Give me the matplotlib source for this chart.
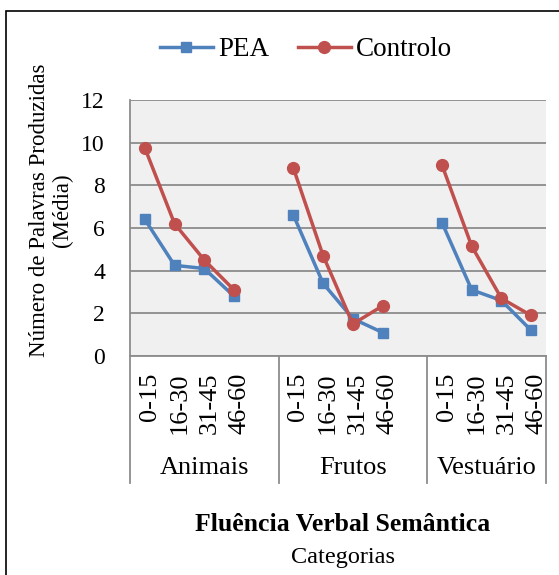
import numpy as np
import matplotlib.pyplot as plt
import matplotlib.transforms as mtrans
from matplotlib.patches import Rectangle

plt.rcParams['font.family'] = ['Liberation Serif', 'DejaVu Serif']

# data
groups = ["Animais", "Frutos", "Vestuário"]
intervals = ["0-15", "16-30", "31-45", "46-60"]
pea = [[6.4, 4.25, 4.1, 2.8],
       [6.6, 3.4, 1.75, 1.1],
       [6.25, 3.1, 2.6, 1.2]]
controlo = [[9.75, 6.2, 4.5, 3.1],
            [8.8, 4.7, 1.5, 2.35],
            [8.95, 5.15, 2.7, 1.9]]

blue = "#4f81bd"
red = "#c0504d"
grid_col = "#8c8c8c"

fig = plt.figure(figsize=(5.59, 5.75), dpi=100)
ax = fig.add_axes([130/559, 1-356/575, 416/559, 256/575])
ax.set_facecolor("#f0f0f0")

# Excel layout: 5 slots per group (4 intervals + blank), last group has no blank
starts = [0, 5, 10]
xt, xl = [], []
for g in range(3):
    x = np.arange(4) + starts[g] + 0.5
    ax.plot(x, pea[g], color=blue, lw=2.5, marker="s", ms=6.5,
            label="PEA" if g == 0 else None, zorder=3)
    ax.plot(x, controlo[g], color=red, lw=2.5, marker="o", ms=8.5,
            label="Controlo" if g == 0 else None, zorder=4)
    xt += list(x)
    xl += intervals

ax.set_xlim(0, 14)
ax.set_ylim(0, 12)
ax.set_yticks(range(0, 13, 2))
ax.yaxis.grid(True, color=grid_col, lw=1.3)
ax.set_axisbelow(True)
ax.set_xticks(xt)
ax.set_xticklabels(xl, rotation=90, fontsize=19)
ax.tick_params(axis="x", length=0, pad=12)
ax.tick_params(axis="y", length=0, pad=18, labelsize=17)
shift = mtrans.ScaledTranslation(5/100, 0, fig.dpi_scale_trans)
for lbl in ax.get_xticklabels():
    lbl.set_transform(lbl.get_transform() + shift)
for s in ["top", "right"]:
    ax.spines[s].set_visible(False)
for s in ["left", "bottom"]:
    ax.spines[s].set_color(grid_col)
    ax.spines[s].set_linewidth(1.3)

# group separators and labels below the axis
tr = ax.get_xaxis_transform()
ends = [5, 10, 14]
for xs in [0] + ends:
    ax.plot([xs, xs], [0, -127/256], color=grid_col, lw=1.3, transform=tr, clip_on=False)
for g, name in enumerate(groups):
    ax.text((starts[g] + ends[g]) / 2, -112/256, name, transform=tr,
            ha="center", va="center", fontsize=19)

fig.text(51/559, 1-210/575, "Número de Palavras Produzidas\n(Média)", rotation=90,
         ha="center", va="center", multialignment="center", fontsize=16.5, linespacing=1.1)

fig.text(343/559, 1-531/575, "Fluência Verbal Semântica", ha="center", va="baseline",
         fontsize=18.5, fontweight="bold")
fig.text(343/559, 1-563/575, "Categorias", ha="center", va="baseline", fontsize=17.5)

fig.legend(loc="center", bbox_to_anchor=(306/559, 1-50/575), ncol=2, frameon=False,
           fontsize=19.5, handlelength=1.95, columnspacing=1.05, handletextpad=0.2)

fig.patches.append(Rectangle((6/559, -0.1), 1.2, 1-11/575+0.1, transform=fig.transFigure,
                             fill=False, ec="black", lw=1.2))

fig.savefig("out.png", dpi=100)
